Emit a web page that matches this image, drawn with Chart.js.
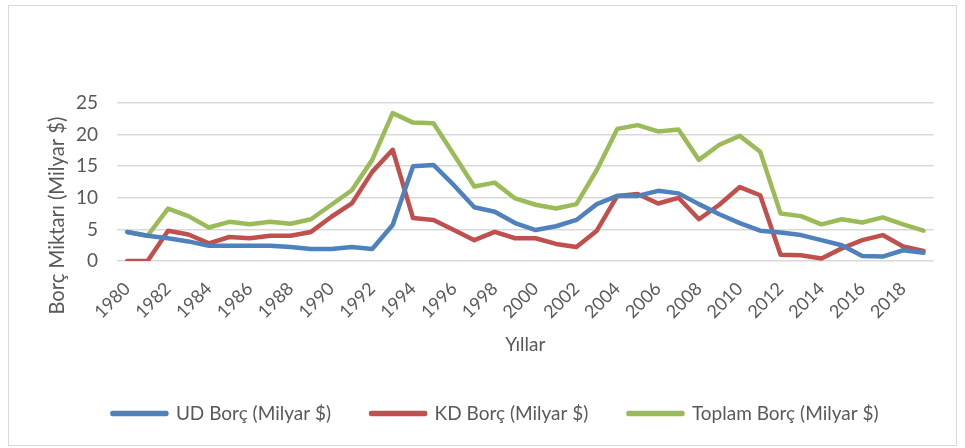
<!DOCTYPE html>
<html>
<head>
<meta charset="utf-8">
<script src="https://cdn.jsdelivr.net/npm/chart.js@4"></script>
<style>
  html, body { margin: 0; padding: 0; background: #ffffff; }
  #box { position: absolute; left: 8px; top: 5px; width: 947px; height: 439px; border: 1px solid #d9d9d9; background: #fff; }
  canvas { display: block; }
</style>
</head>
<body>
<div id="box"><canvas id="c" width="947" height="439"></canvas></div>
<script>
const years = ["1980","1981","1982","1983","1984","1985","1986","1987","1988","1989",
               "1990","1991","1992","1993","1994","1995","1996","1997","1998","1999",
               "2000","2001","2002","2003","2004","2005","2006","2007","2008","2009",
               "2010","2011","2012","2013","2014","2015","2016","2017","2018","2019"];
const udBorc = [4.6,4.0,3.6,3.1,2.4,2.4,2.4,2.4,2.2,1.9,
                1.9,2.2,1.9,5.7,15.0,15.2,12.0,8.5,7.8,6.0,
                4.9,5.5,6.5,9.0,10.3,10.3,11.1,10.7,9.0,7.4,
                6.0,4.8,4.5,4.1,3.3,2.5,0.8,0.7,1.7,1.3];
const kdBorc = [0.0,0.0,4.8,4.2,2.8,3.8,3.6,4.0,4.0,4.6,
                7.0,9.1,14.1,17.6,6.8,6.5,4.9,3.3,4.6,3.6,
                3.6,2.7,2.2,4.8,10.3,10.6,9.1,10.0,6.6,8.9,
                11.7,10.4,1.0,0.9,0.4,2.0,3.3,4.1,2.3,1.6];
const toplamBorc = [4.6,4.0,8.3,7.1,5.3,6.2,5.8,6.2,5.9,6.6,
                    8.9,11.2,16.0,23.4,21.9,21.8,16.8,11.8,12.4,9.9,
                    8.9,8.3,9.0,14.4,20.9,21.5,20.5,20.8,16.0,18.4,
                    19.8,17.3,7.5,7.1,5.8,6.6,6.1,6.9,5.8,4.8];
const yTicks = [0,5,10,15,20,25];
const seriesNames = ["UD Borç (Milyar $)","KD Borç (Milyar $)","Toplam Borç (Milyar $)"];
const xTitle = "Yıllar";
const yTitle = "Borç Miktarı (Milyar $)";

const FONT = "Lato";
const TXT = "#595959";
const Y_TITLE_SIZE = 20.2;

// shift the y-axis title down (reference centres it lower than the plot area)
const mctx = document.createElement('canvas').getContext('2d');
mctx.font = Y_TITLE_SIZE + "px " + FONT;
const spW = mctx.measureText(" ").width || 4;
const yTitlePadded = yTitle + " ".repeat(Math.round(68 / spW));

function ds(label, data, color) {
  return {
    label, data,
    borderColor: color, backgroundColor: color,
    borderWidth: 4.5, pointRadius: 0, pointHoverRadius: 0,
    tension: 0, borderJoinStyle: 'round', borderCapStyle: 'round', fill: false
  };
}

new Chart(document.getElementById('c'), {
  type: 'line',
  data: {
    labels: years,
    datasets: [
      ds(seriesNames[0], udBorc, '#4F81BD'),
      ds(seriesNames[1], kdBorc, '#C0504D'),
      ds(seriesNames[2], toplamBorc, '#9BBB59')
    ]
  },
  options: {
    responsive: false,
    animation: false,
    layout: { padding: { top: 97, right: 16, left: 42, bottom: 12 } },
    plugins: {
      tooltip: { enabled: false },
      legend: {
        position: 'bottom',
        labels: {
          boxWidth: 54, boxHeight: 1, padding: 40,
          color: TXT, font: { family: FONT, size: 19 }
        }
      }
    },
    scales: {
      x: {
        offset: true,
        grid: { display: false, drawTicks: false },
        border: { display: false },
        ticks: {
          autoSkip: false, maxRotation: 45, minRotation: 45, padding: 17,
          color: TXT, font: { family: FONT, size: 18 },
          callback: function(v, i) { return i % 2 === 0 ? this.getLabelForValue(v) : ''; }
        },
        title: { display: true, text: xTitle, color: TXT, font: { family: FONT, size: 19 }, padding: { top: 0, bottom: 7.6 } },
        afterFit: s => { s.height = 103; }
      },
      y: {
        min: 0, max: 25,
        afterBuildTicks: s => { s.ticks = yTicks.map(v => ({ value: v })); },
        grid: { color: '#d9d9d9', lineWidth: 1.5, drawTicks: false },
        border: { display: false },
        ticks: { padding: 19, color: TXT, font: { family: FONT, size: 19 } },
        title: { display: true, text: yTitlePadded, color: TXT, font: { family: FONT, size: Y_TITLE_SIZE }, padding: { top: -6.1, bottom: 0 } },
        afterFit: s => { s.width = 66; }
      }
    }
  }
});
</script>
</body>
</html>
